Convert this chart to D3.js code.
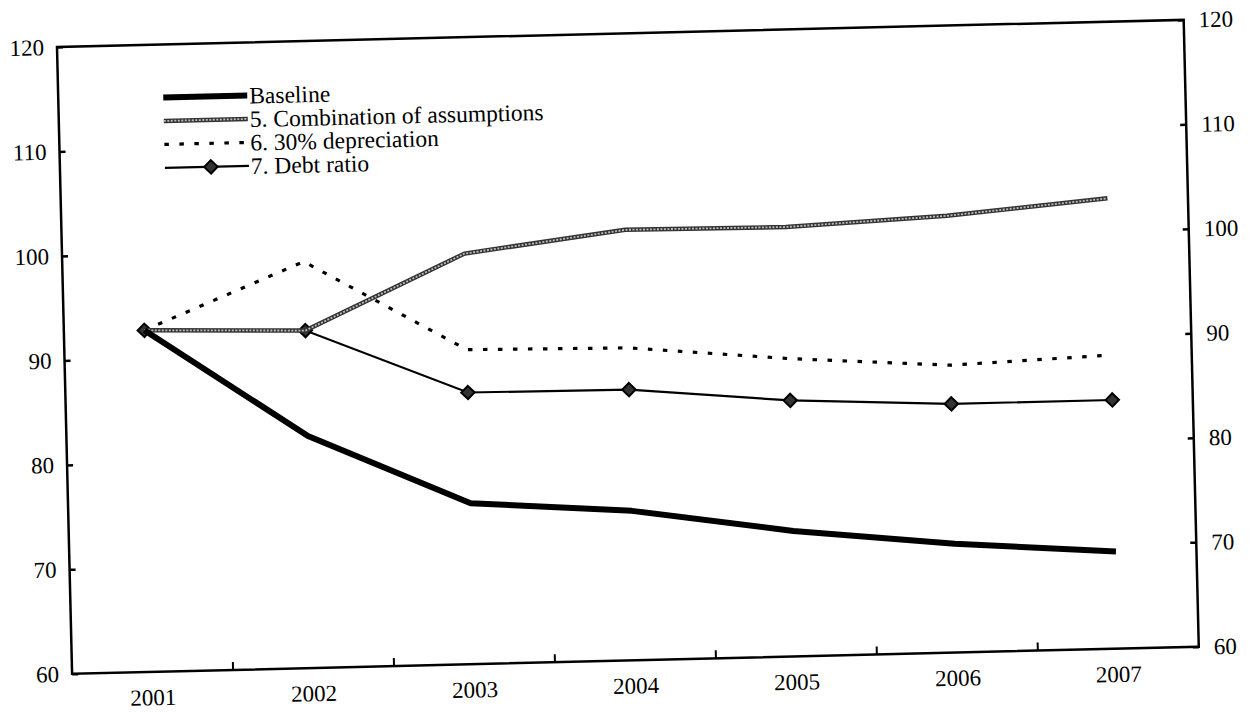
<!DOCTYPE html>
<html>
<head>
<meta charset="utf-8">
<script src="https://cdn.jsdelivr.net/npm/d3@7"></script>
<style>
  body { margin: 0; background: #fff; }
  svg { display: block; }
  text { font-family: "Liberation Serif", "Times New Roman", Tinos, "DejaVu Serif", serif; fill: #000; }
</style>
</head>
<body>
<svg id="chart"></svg>
<script>
// chart values
var years = ["2001", "2002", "2003", "2004", "2005", "2006", "2007"];
var baseline = [92.7, 82.2, 75.4, 74.3, 72.0, 70.4, 69.3];
var combination = [92.7, 92.3, 99.3, 101.2, 101.1, 101.8, 103.1];
var depreciation = [92.7, 98.9, 90.1, 89.9, 88.5, 87.5, 88.1];
var debtRatio = [92.7, 92.3, 86.0, 85.9, 84.5, 83.8, 83.8];
var yTicks = [60, 70, 80, 90, 100, 110, 120];
var seriesNames = ["Baseline", "5. Combination of assumptions", "6. 30% depreciation", "7. Debt ratio"];

var width = 1251, height = 714;
var plotW = 1127, plotH = 627;

var svg = d3.select("#chart")
    .attr("width", width)
    .attr("height", height);

svg.append("rect").attr("width", width).attr("height", height).attr("fill", "#fff");

// the original is a slightly tilted scan, so the whole figure is turned a bit
var g = svg.append("g")
    .attr("transform", "translate(57,47) rotate(-1.38)");

var x = d3.scaleBand().domain(years).range([0, plotW]);
var y = d3.scaleLinear().domain([60, 120]).range([plotH, 0]);
var cx = d => x(d) + x.bandwidth() / 2;

// frame
g.append("rect")
    .attr("width", plotW).attr("height", plotH)
    .attr("fill", "none").attr("stroke", "#000").attr("stroke-width", 2.5);

// left and right axes, same 60-120 scale
var left = g.append("g").call(d3.axisLeft(y).tickValues(yTicks).tickSize(-6).tickPadding(13));
var right = g.append("g").attr("transform", `translate(${plotW},0)`)
    .call(d3.axisRight(y).tickValues(yTicks).tickSize(-6).tickPadding(15));
[left, right].forEach(function(a) {
    a.select(".domain").remove();
    a.selectAll("line").attr("stroke", "#000").attr("stroke-width", 2.5);
    a.selectAll("text").attr("font-size", 23);
});

// bottom axis: labels at band centres, ticks at band boundaries
var bottom = g.append("g").attr("transform", `translate(0,${plotH})`)
    .call(d3.axisBottom(x).tickSize(0).tickPadding(17));
bottom.select(".domain").remove();
bottom.selectAll("text").attr("font-size", 23);
g.selectAll(".xtick")
    .data(years.slice(1))
    .enter().append("line")
    .attr("x1", d => x(d)).attr("x2", d => x(d))
    .attr("y1", plotH).attr("y2", plotH - 8)
    .attr("stroke", "#000").attr("stroke-width", 2);

var line = d3.line().x((d, i) => cx(years[i])).y(d => y(d));

// series styles
function drawBaseline(sel, d) {
    sel.append("path").attr("d", d).attr("fill", "none")
        .attr("stroke", "#000").attr("stroke-width", 6).attr("stroke-linejoin", "round");
}
function drawCombination(sel, d) {
    sel.append("path").attr("d", d).attr("fill", "none")
        .attr("stroke", "#333").attr("stroke-width", 4.5);
    sel.append("path").attr("d", d).attr("fill", "none")
        .attr("stroke", "#bbb").attr("stroke-width", 1.8).attr("stroke-dasharray", "2,1.5");
}
function drawDepreciation(sel, d) {
    sel.append("path").attr("d", d).attr("fill", "none")
        .attr("stroke", "#000").attr("stroke-width", 3.2).attr("stroke-dasharray", "4.5,10.5");
}
function drawDebt(sel, d) {
    sel.append("path").attr("d", d).attr("fill", "none")
        .attr("stroke", "#000").attr("stroke-width", 2.2);
}
var diamond = d3.symbol().type(d3.symbolSquare).size(90);

drawDepreciation(g, line(depreciation));
drawDebt(g, line(debtRatio));
g.selectAll(".debt-pt")
    .data(debtRatio)
    .enter().append("path")
    .attr("d", diamond)
    .attr("transform", (d, i) => `translate(${cx(years[i])},${y(d)}) rotate(45)`)
    .attr("fill", "#333").attr("stroke", "#000").attr("stroke-width", 2);
drawCombination(g, line(combination));
drawBaseline(g, line(baseline));

// legend
var legend = g.append("g").attr("transform", "translate(105,53)");
var drawers = [drawBaseline, drawCombination, drawDepreciation, drawDebt];
seriesNames.forEach(function(name, i) {
    var row = legend.append("g").attr("transform", `translate(0,${i * 23.5})`);
    drawers[i](row, "M0,0L84,0");
    if (i === 3) {
        row.append("path").attr("d", diamond).attr("transform", "translate(46,0) rotate(45)")
            .attr("fill", "#333").attr("stroke", "#000").attr("stroke-width", 2);
    }
    row.append("text").attr("x", 86).attr("dy", "0.35em")
        .attr("font-size", 23.5).text(name);
});
</script>
</body>
</html>
